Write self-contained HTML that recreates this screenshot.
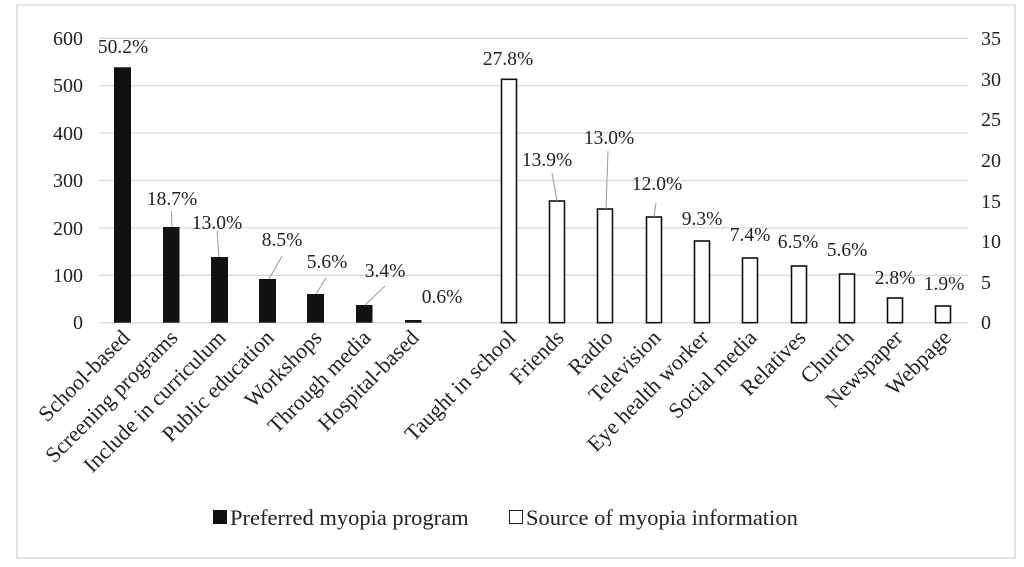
<!DOCTYPE html>
<html><head><meta charset="utf-8"><style>body{margin:0;background:#fff}svg{display:block}text{font-family:"Liberation Serif",serif;fill:#222}</style></head>
<body>
<svg width="1024" height="567" viewBox="0 0 1024 567" xmlns="http://www.w3.org/2000/svg">
<rect x="17" y="5" width="998" height="553" fill="#fff" stroke="#d9d9d9" stroke-width="1.5"/>
<g stroke="#d9d9d9" stroke-width="1.3">
<line x1="99" x2="968" y1="38.3" y2="38.3"/><line x1="99" x2="968" y1="85.7" y2="85.7"/><line x1="99" x2="968" y1="133.1" y2="133.1"/><line x1="99" x2="968" y1="180.5" y2="180.5"/><line x1="99" x2="968" y1="227.9" y2="227.9"/><line x1="99" x2="968" y1="275.3" y2="275.3"/><line x1="99" x2="968" y1="322.7" y2="322.7"/>
</g>
<g font-size="20" text-anchor="end">
<text x="83" y="45">600</text><text x="83" y="92">500</text><text x="83" y="140">400</text><text x="83" y="187">300</text><text x="83" y="235">200</text><text x="83" y="282">100</text><text x="83" y="329">0</text>
</g>
<g font-size="20" text-anchor="start">
<text x="981" y="45">35</text><text x="981" y="86">30</text><text x="981" y="126">25</text><text x="981" y="167">20</text><text x="981" y="208">15</text><text x="981" y="248">10</text><text x="981" y="289">5</text><text x="981" y="329">0</text>
</g>
<g fill="#111">
<rect x="114" y="67.3" width="17" height="255.4"/>
<rect x="163" y="227" width="16.5" height="95.7"/>
<rect x="211" y="257" width="17" height="65.7"/>
<rect x="259" y="279" width="17" height="43.7"/>
<rect x="307" y="294" width="17" height="28.7"/>
<rect x="356" y="305" width="16.5" height="17.7"/>
<rect x="405" y="320" width="16.5" height="2.7"/>
</g>
<g fill="#fff" stroke="#111" stroke-width="1.6">
<rect x="501.5" y="79.3" width="15" height="243.4"/>
<rect x="549.5" y="201" width="15" height="121.7"/>
<rect x="597.5" y="209" width="15" height="113.7"/>
<rect x="646.5" y="217" width="15" height="105.7"/>
<rect x="694.5" y="241" width="15" height="81.7"/>
<rect x="742.5" y="258" width="15" height="64.7"/>
<rect x="791.5" y="266" width="15" height="56.7"/>
<rect x="839.5" y="274" width="15" height="48.7"/>
<rect x="887.5" y="298" width="15" height="24.7"/>
<rect x="935.5" y="306" width="15" height="16.7"/>
</g>
<g stroke="#999" stroke-width="1">
<line x1="171.5" y1="211" x2="172" y2="227"/>
<line x1="217" y1="231" x2="219" y2="257"/>
<line x1="282" y1="256" x2="269" y2="279"/>
<line x1="326" y1="278" x2="316" y2="294"/>
<line x1="385" y1="286" x2="365" y2="305"/>
<line x1="552" y1="173" x2="557" y2="201"/>
<line x1="608" y1="151" x2="606" y2="209"/>
<line x1="656" y1="203" x2="654" y2="217"/>
</g>
<g font-size="19.5" text-anchor="middle">
<text x="123" y="53">50.2%</text><text x="172" y="205">18.7%</text><text x="217" y="229">13.0%</text><text x="282" y="246">8.5%</text><text x="327" y="268">5.6%</text><text x="385" y="277">3.4%</text><text x="442" y="303">0.6%</text>
<text x="508" y="65">27.8%</text><text x="547" y="166">13.9%</text><text x="609" y="144">13.0%</text><text x="657" y="190">12.0%</text><text x="702" y="225">9.3%</text><text x="750" y="241">7.4%</text><text x="798" y="248">6.5%</text><text x="847" y="256">5.6%</text><text x="895" y="284">2.8%</text><text x="944" y="290">1.9%</text>
</g>
<g font-size="22" text-anchor="end">
<text transform="translate(131,339) rotate(-45)">School-based</text>
<text transform="translate(179,339) rotate(-45)">Screening programs</text>
<text transform="translate(227,339) rotate(-45)">Include in curriculum</text>
<text transform="translate(275,339) rotate(-45)">Public education</text>
<text transform="translate(323,339) rotate(-45)">Workshops</text>
<text transform="translate(372,339) rotate(-45)">Through media</text>
<text transform="translate(420,339) rotate(-45)">Hospital-based</text>
<text transform="translate(517,339) rotate(-45)">Taught in school</text>
<text transform="translate(565,339) rotate(-45)">Friends</text>
<text transform="translate(614,339) rotate(-45)">Radio</text>
<text transform="translate(662,339) rotate(-45)">Television</text>
<text transform="translate(710,339) rotate(-45)">Eye health worker</text>
<text transform="translate(758,339) rotate(-45)">Social media</text>
<text transform="translate(807,339) rotate(-45)">Relatives</text>
<text transform="translate(855,339) rotate(-45)">Church</text>
<text transform="translate(904,339) rotate(-45)">Newspaper</text>
<text transform="translate(952,339) rotate(-45)">Webpage</text>
</g>
<rect x="213" y="510" width="14" height="14" fill="#111"/>
<text x="230" y="525" font-size="22.5">Preferred myopia program</text>
<rect x="509.5" y="510.5" width="13" height="13" fill="#fff" stroke="#222" stroke-width="1"/>
<text x="526" y="525" font-size="22.5">Source of myopia information</text>
</svg>
</body></html>
